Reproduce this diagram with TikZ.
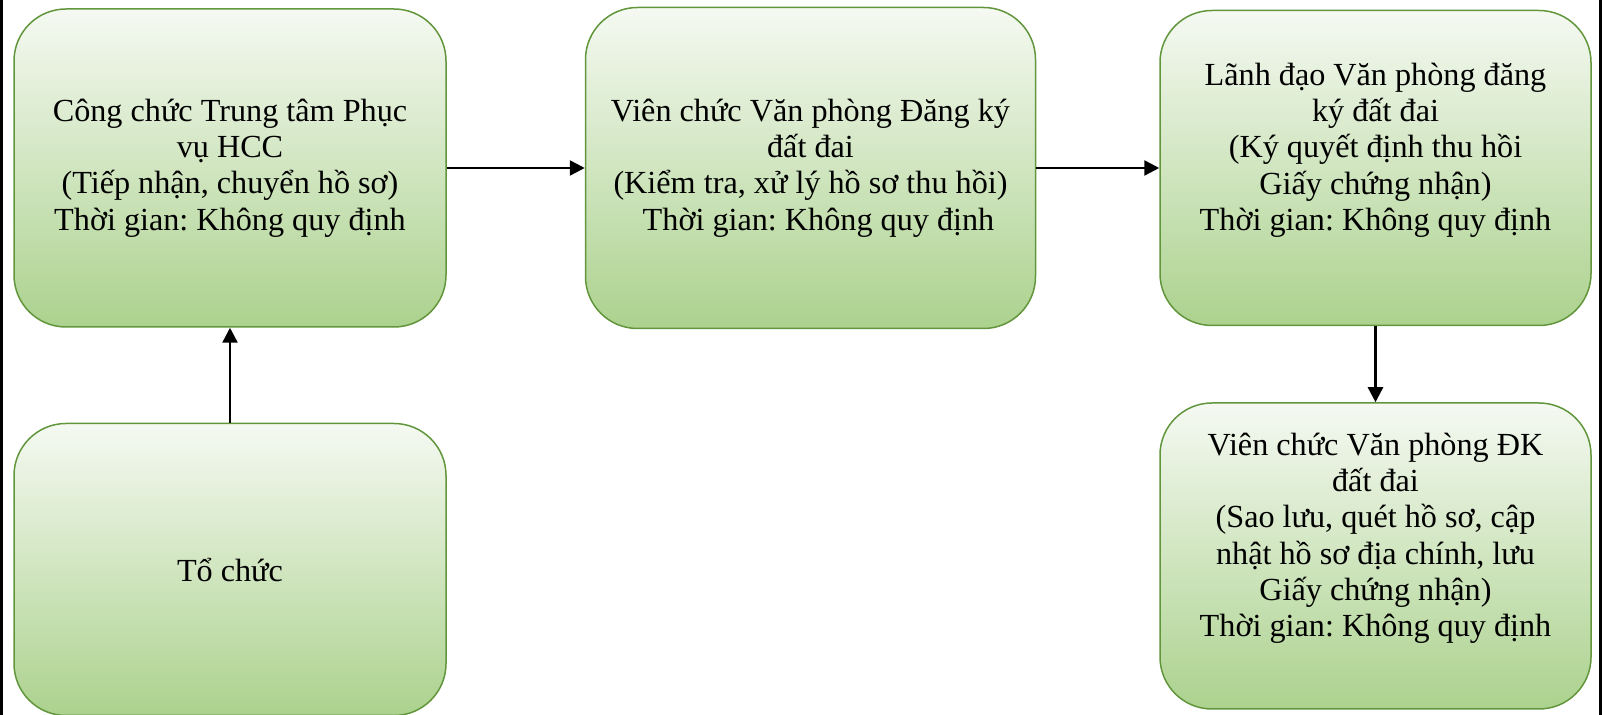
\documentclass[tikz,border=0pt]{standalone}
\usepackage{fontspec}
\setmainfont{Liberation Serif}
\usetikzlibrary{arrows.meta,positioning}

\definecolor{boxtop}{RGB}{245,249,242}
\definecolor{boxbot}{RGB}{172,210,142}
\definecolor{boxline}{RGB}{98,150,60}

\frenchspacing

\begin{document}
\begin{tikzpicture}[
  stage/.style={draw=boxline, line width=0.75pt, rounded corners=26pt,
                top color=boxtop, bottom color=boxbot, align=center,
                font=\fontsize{16.1}{18.2}\selectfont, inner sep=2pt},
  arr/.style={-{Triangle[length=7.5pt,width=7.5pt]}, line width=1.2pt},
]
\useasboundingbox (0,0) rectangle (801pt,-357.5pt);

\node[stage, minimum width=216pt, minimum height=159pt] (ccTT) at (115pt,-84pt)
  {Công chức Trung tâm Phục\\vụ HCC\\(Tiếp nhận, chuyển hồ sơ)\\Thời gian: Không quy định};
\node[stage, minimum width=225pt, minimum height=160.5pt, right=69pt of ccTT] (vcVP)
  {Viên chức Văn phòng Đăng ký\\đất đai\\(Kiểm tra, xử lý hồ sơ thu hồi)\\\hspace*{8pt}Thời gian: Không quy định};
\node[stage, minimum width=215.5pt, minimum height=157.5pt, right=61.5pt of vcVP] (ldVP)
  {Lãnh đạo Văn phòng đăng\\ký đất đai\\(Ký quyết định thu hồi\\Giấy chứng nhận)\\Thời gian: Không quy định\\[3pt]\mbox{}};
\node[stage, minimum width=215.5pt, minimum height=153pt, below=38pt of ldVP] (vcDK)
  {Viên chức Văn phòng ĐK\\đất đai\\(Sao lưu, quét hồ sơ, cập\\nhật hồ sơ địa chính, lưu\\Giấy chứng nhận)\\Thời gian: Không quy định\\[3pt]\mbox{}};
\node[stage, minimum width=216pt, minimum height=146pt, below=47.5pt of ccTT] (toChuc)
  {Tổ chức};

\draw[arr] (toChuc.north) -- (ccTT.south);
\draw[arr] (ccTT.east) -- (ccTT.east -| vcVP.west);
\draw[arr] (vcVP.east) -- (vcVP.east -| ldVP.west);
\draw[arr] (ldVP.south) -- (vcDK.north);

% page edges
\draw[line width=1.3pt] (0.65pt,0) -- (0.65pt,-357.5pt);
\draw[line width=1.3pt] (800.35pt,0) -- (800.35pt,-357.5pt);
\end{tikzpicture}
\end{document}
